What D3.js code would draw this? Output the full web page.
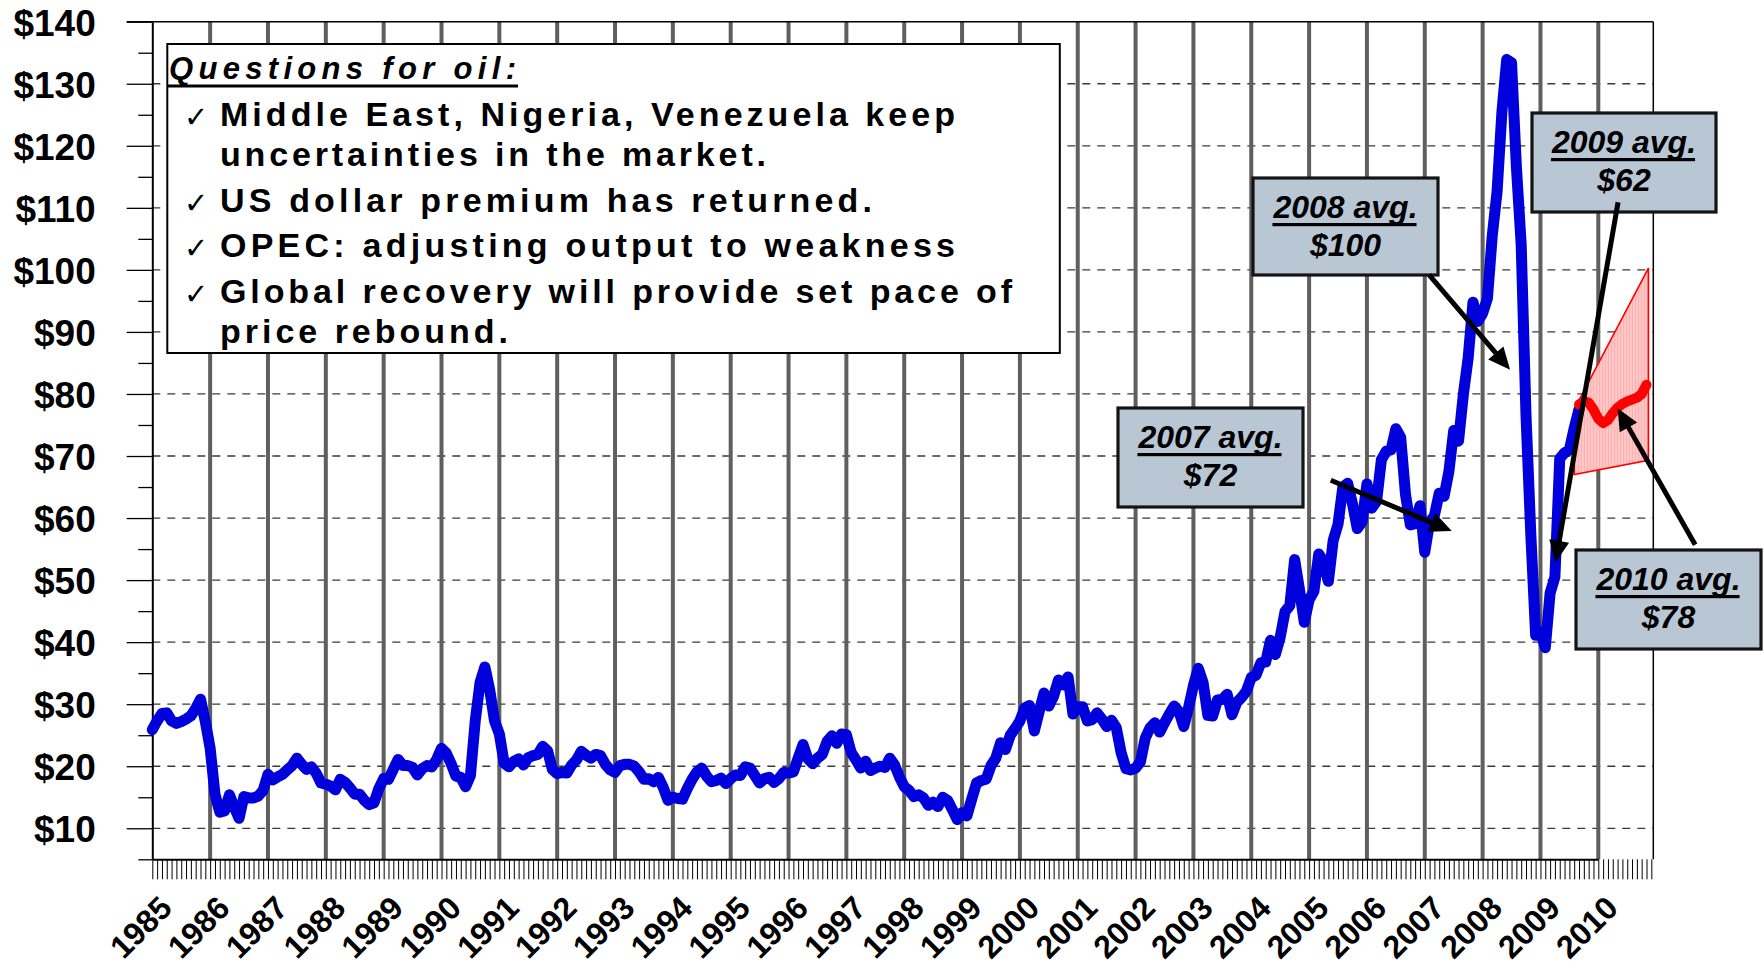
<!DOCTYPE html>
<html><head><meta charset="utf-8">
<script src="https://cdn.jsdelivr.net/npm/d3@7/dist/d3.min.js"></script>
<style>body{margin:0;background:#fff}svg{display:block}</style>
</head><body>
<svg id="c" width="1764" height="970"></svg>
<script>
// ---------------- DATA (monthly WTI spot, $/bbl) ----------------
const p1985 = [25.9, 27.3, 28.5, 28.6, 27.3, 26.9, 27.2, 27.6, 28.1, 29.3, 30.8, 27.2];
const p1986 = [22.9, 15.5, 12.6, 12.8, 15.4, 13.4, 11.6, 15.1, 14.9, 14.9, 15.2, 16.1];
const p1987 = [18.7, 17.8, 18.3, 18.7, 19.4, 20.1, 21.3, 20.3, 19.5, 19.9, 18.9, 17.3];
const p1988 = [17.1, 16.8, 16.2, 17.9, 17.4, 16.5, 15.5, 15.5, 14.5, 13.8, 14.1, 16.4];
const p1989 = [18.0, 17.9, 19.5, 21.1, 20.1, 20.1, 19.8, 18.6, 19.6, 20.1, 19.9, 21.1];
const p1990 = [22.9, 22.1, 20.4, 18.4, 18.2, 16.7, 18.5, 27.3, 33.5, 36.0, 32.3, 27.3];
const p1991 = [25.2, 20.5, 19.9, 20.8, 21.2, 20.2, 21.4, 21.7, 21.9, 23.2, 22.5, 19.5];
const p1992 = [18.8, 19.0, 18.9, 20.2, 21.0, 22.4, 21.8, 21.3, 21.9, 21.7, 20.3, 19.4];
const p1993 = [19.0, 20.1, 20.3, 20.3, 20.0, 19.1, 17.9, 18.0, 17.5, 18.2, 16.6, 14.5];
const p1994 = [15.0, 14.8, 14.7, 16.4, 17.9, 19.1, 19.7, 18.4, 17.5, 17.7, 18.1, 17.2];
const p1995 = [18.0, 18.6, 18.5, 19.9, 19.7, 18.5, 17.3, 18.0, 18.2, 17.4, 18.0, 19.0];
const p1996 = [18.9, 19.1, 21.3, 23.5, 21.2, 20.4, 21.3, 21.9, 24.0, 24.9, 23.7, 25.2];
const p1997 = [25.1, 22.2, 21.0, 19.7, 20.8, 19.3, 19.7, 20.0, 19.8, 21.3, 20.2, 18.3];
const p1998 = [16.7, 16.1, 15.1, 15.4, 14.9, 13.7, 14.2, 13.5, 15.0, 14.5, 13.0, 11.4];
const p1999 = [12.5, 12.0, 14.7, 17.3, 17.7, 17.9, 20.1, 21.3, 23.8, 22.7, 25.0, 26.1];
const p2000 = [27.3, 29.4, 29.8, 25.7, 28.8, 31.8, 29.7, 31.3, 33.9, 33.1, 34.4, 28.4];
const p2001 = [29.6, 29.6, 27.3, 27.5, 28.6, 27.6, 26.4, 27.4, 26.2, 22.2, 19.6, 19.4];
const p2002 = [19.7, 20.7, 24.5, 26.2, 27.0, 25.5, 27.0, 28.4, 29.7, 28.8, 26.4, 29.5];
const p2003 = [33.0, 35.8, 33.5, 28.2, 28.1, 30.7, 30.8, 31.6, 28.3, 30.3, 31.1, 32.1];
const p2004 = [34.3, 34.7, 36.7, 36.8, 40.3, 38.0, 40.8, 44.9, 45.9, 53.3, 48.5, 43.2];
const p2005 = [46.8, 48.2, 54.2, 53.0, 49.8, 56.4, 59.0, 65.0, 65.6, 62.3, 58.3, 59.4];
const p2006 = [65.5, 61.6, 62.7, 69.4, 70.8, 71.0, 74.4, 73.0, 63.8, 58.9, 59.1, 62.0];
const p2007 = [54.5, 59.3, 60.4, 64.0, 63.5, 67.5, 74.1, 72.4, 79.9, 85.8, 94.8, 91.7];
const p2008 = [93.0, 95.4, 105.5, 112.6, 125.4, 133.9, 133.4, 116.7, 104.1, 76.6, 57.3, 41.1];
const p2009 = [41.7, 39.1, 47.9, 50.5, 69.6, 70.5, 71.0, 74.5, 77.5];

// forecast (red) – month index from Jan 1985 = 0
const forecastStart = 296;
const forecast = [78.3, 78.8, 78.6, 77.5, 76.0, 75.3, 75.8, 76.9, 77.8, 78.4, 78.8, 79.1, 79.4, 80.0, 81.5];
// forecast fan (month index, low, high)
const fanMonths = [295, 310.4];
const fanLow = [67.0, 69.3];
const fanHigh = [77.5, 100.3];

const years = d3.range(1985, 2011);
const yMajor = [10, 20, 30, 40, 50, 60, 70, 80, 90, 100, 110, 120, 130, 140];
const yMinor = [5, 15, 25, 35, 45, 55, 65, 75, 85, 95, 105, 115, 125, 135];

const boxTitle = "Questions for oil:";
const boxLines = [
  "Middle East, Nigeria, Venezuela keep",
  "uncertainties in the market.",
  "US dollar premium has returned.",
  "OPEC: adjusting output to weakness",
  "Global recovery will provide set pace of",
  "price rebound."
];
const boxChecked = [true, false, true, true, true, false];

const annoTitles = ["2007 avg.", "2008 avg.", "2009 avg.", "2010 avg."];
const annoValues = ["$72", "$100", "$62", "$78"];

// ---------------- LAYOUT ----------------
const plot = {l: 152.3, r: 1653.3, t: 21.7, b: 859.3};
const FONT = "'Liberation Sans', Arial, Helvetica, sans-serif";
const boxRects = [[1118, 408, 185, 99], [1253, 178, 185, 97], [1532, 113, 184, 99], [1576, 550, 185, 99]];
// arrows in data units: [fromMonth, fromValue, toMonth, toValue]
const arrows = [[244.5, 66.1, 269.6, 57.9], [264.9, 99.2, 281.7, 83.9], [304.1, 110.9, 291.1, 52.8], [320.1, 55.7, 304.0, 77.7]];
const lineBase = [126, 166, 212, 257, 303, 343];
const lineEnd = [955, 766, 872, 955, 1012, 508];

const series = [].concat(p1985,p1986,p1987,p1988,p1989,p1990,p1991,p1992,p1993,p1994,p1995,p1996,
  p1997,p1998,p1999,p2000,p2001,p2002,p2003,p2004,p2005,p2006,p2007,p2008,p2009)
  .map((v, i) => ({i, v}));
const fcData = forecast.map((v, k) => ({i: forecastStart + k, v}));

const svg = d3.select("#c");
const x = d3.scaleLinear().domain([0, 300]).range([plot.l, 1598.3]);
const y = d3.scaleLinear().domain([5, 140]).range([plot.b, plot.t]);

const defs = svg.append("defs");
const pat = defs.append("pattern").attr("id", "hatch").attr("patternUnits", "userSpaceOnUse")
  .attr("width", 3).attr("height", 10);
pat.append("rect").attr("width", 3).attr("height", 10).attr("fill", "#ffc6c6");
pat.append("rect").attr("width", 1).attr("height", 10).attr("fill", "#ffb0b0");

// horizontal dashed grid
svg.append("g").selectAll("line").data(yMajor.filter(v => v < 140)).join("line")
  .attr("x1", plot.l).attr("x2", plot.r).attr("y1", d => y(d)).attr("y2", d => y(d))
  .attr("stroke", "#3a3a3a").attr("stroke-width", 1.3).attr("stroke-dasharray", "8,7");

// vertical year grid
svg.append("g").selectAll("line").data(years.slice(1)).join("line")
  .attr("x1", d => x((d - 1985) * 12)).attr("x2", d => x((d - 1985) * 12))
  .attr("y1", plot.t).attr("y2", plot.b)
  .attr("stroke", "#5f5f5f").attr("stroke-width", 4);

// top & right borders
svg.append("line").attr("x1", plot.l - 25.6).attr("x2", plot.r).attr("y1", plot.t).attr("y2", plot.t)
  .attr("stroke", "#000").attr("stroke-width", 1.5);
svg.append("line").attr("x1", plot.r).attr("x2", plot.r).attr("y1", plot.t).attr("y2", plot.b)
  .attr("stroke", "#000").attr("stroke-width", 1.5);

// y axis
const yAxis = svg.append("g").attr("transform", `translate(${plot.l},0)`)
  .call(d3.axisLeft(y).tickValues(yMajor).tickSize(25.6).tickSizeOuter(0).tickPadding(31)
    .tickFormat(d => "$" + d));
yAxis.select(".domain").attr("stroke", "#000").attr("stroke-width", 2);
yAxis.selectAll(".tick line").attr("stroke", "#000").attr("stroke-width", 1.3);
yAxis.selectAll("text").attr("font-family", FONT).attr("font-weight", "bold")
  .attr("font-size", 37).attr("fill", "#000").attr("dy", "0.36em");
const yMin = svg.append("g").attr("transform", `translate(${plot.l},0)`)
  .call(d3.axisLeft(y).tickValues(yMinor).tickSize(14).tickSizeOuter(0).tickFormat(""));
yMin.select(".domain").remove();
yMin.selectAll(".tick line").attr("stroke", "#000").attr("stroke-width", 1.3);

// x axis with monthly ticks
const xAxis = svg.append("g").attr("transform", `translate(0,${plot.b})`)
  .call(d3.axisBottom(x).tickValues(d3.range(0, 312)).tickSize(20).tickSizeOuter(0).tickFormat(""));
xAxis.select(".domain").attr("stroke", "#000").attr("stroke-width", 2);
xAxis.selectAll(".tick line").attr("stroke", "#000").attr("stroke-width", 1);

// year labels
const xLab = svg.append("g").attr("transform", `translate(0,${plot.b})`)
  .call(d3.axisBottom(x).tickValues(years.map(d => (d - 1985) * 12)).tickSize(0).tickSizeOuter(0)
    .tickFormat(d => String(1985 + d / 12)));
xLab.select(".domain").remove();
xLab.selectAll("text").attr("x", 0).attr("y", 0).attr("dy", 0)
  .attr("transform", `translate(21,${910 - plot.b}) rotate(-45)`)
  .style("text-anchor", "end").attr("font-family", FONT).attr("font-weight", "bold")
  .attr("font-size", 32).attr("fill", "#000");

// question box
svg.append("rect").attr("x", 167.3).attr("y", 44).attr("width", 892.5).attr("height", 309)
  .attr("fill", "#fff").attr("stroke", "#000").attr("stroke-width", 2);
svg.append("text").attr("x", 169).attr("y", 79).text(boxTitle)
  .attr("font-family", FONT).attr("font-weight", "bold").attr("font-style", "italic")
  .attr("font-size", 31).attr("textLength", 347).attr("lengthAdjust", "spacing");
svg.append("rect").attr("x", 168).attr("y", 84.5).attr("width", 350).attr("height", 3).attr("fill", "#000");
boxLines.forEach((t, k) => {
  if (boxChecked[k]) {
    svg.append("text").attr("x", 184).attr("y", lineBase[k] + 1).text("\u2713")
      .attr("font-family", "'DejaVu Sans', sans-serif").attr("font-size", 29);
  }
  svg.append("text").attr("x", 220).attr("y", lineBase[k]).text(t)
    .attr("font-family", FONT).attr("font-weight", "bold").attr("font-size", 34)
    .attr("textLength", lineEnd[k] - 220).attr("lengthAdjust", "spacing");
});

// forecast fan
const fanArea = d3.area().x(k => x(fanMonths[k])).y0(k => y(fanLow[k])).y1(k => y(fanHigh[k]));
svg.append("path").attr("d", fanArea([0, 1])).attr("fill", "url(#hatch)")
  .attr("stroke", "#ff0000").attr("stroke-width", 1.6);

// blue price line
const line = d3.line().x(d => x(d.i)).y(d => y(d.v));
svg.append("path").attr("d", line(series)).attr("fill", "none").attr("stroke", "#0000dd")
  .attr("stroke-width", 11).attr("stroke-linejoin", "round").attr("stroke-linecap", "round");
// red forecast line
svg.append("path").attr("d", line(fcData)).attr("fill", "none").attr("stroke", "#ff0000")
  .attr("stroke-width", 10).attr("stroke-linejoin", "round").attr("stroke-linecap", "round");

// annotation boxes
boxRects.forEach((b, k) => {
  const g = svg.append("g");
  g.append("rect").attr("x", b[0]).attr("y", b[1]).attr("width", b[2]).attr("height", b[3])
    .attr("fill", "#b9c7d5").attr("stroke", "#141414").attr("stroke-width", 3.2);
  const cx = b[0] + b[2] / 2;
  const t1 = g.append("text").attr("x", cx).attr("y", b[1] + 40).text(annoTitles[k])
    .attr("text-anchor", "middle").attr("font-family", FONT).attr("font-weight", "bold")
    .attr("font-style", "italic").attr("font-size", 32);
  const w = t1.node().getComputedTextLength();
  g.append("rect").attr("x", cx - w / 2 - 1).attr("y", b[1] + 45).attr("width", w).attr("height", 3.2)
    .attr("fill", "#000");
  g.append("text").attr("x", cx).attr("y", b[1] + 77.5).text(annoValues[k])
    .attr("text-anchor", "middle").attr("font-family", FONT).attr("font-weight", "bold")
    .attr("font-style", "italic").attr("font-size", 32);
});

// arrows
arrows.forEach(a => {
  const x1 = x(a[0]), y1 = y(a[1]), x2 = x(a[2]), y2 = y(a[3]);
  const dx = x2 - x1, dy = y2 - y1, L = Math.hypot(dx, dy), ux = dx / L, uy = dy / L;
  const hl = 22, hw = 10;
  const bx = x2 - ux * hl, by = y2 - uy * hl;
  svg.append("line").attr("x1", x1).attr("y1", y1).attr("x2", bx + ux * 4).attr("y2", by + uy * 4)
    .attr("stroke", "#000").attr("stroke-width", 5);
  svg.append("path").attr("d", `M${x2},${y2}L${bx - uy * hw},${by + ux * hw}L${bx + uy * hw},${by - ux * hw}Z`)
    .attr("fill", "#000");
});
</script>
</body></html>
